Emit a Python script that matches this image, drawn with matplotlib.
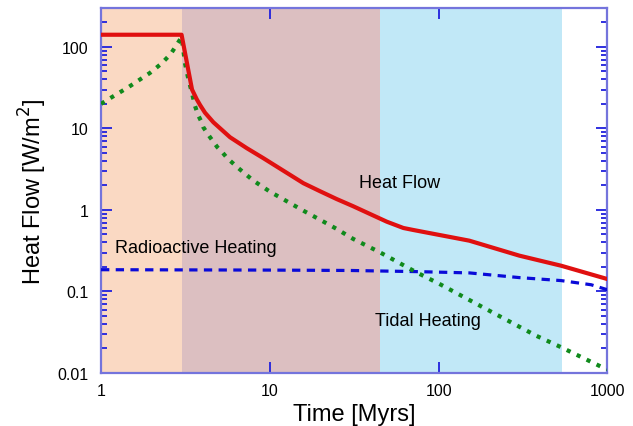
"""
Heat flow history: total heat flow vs. tidal and radioactive heating.
"""

import numpy as np
import matplotlib
matplotlib.use("Agg")
import matplotlib.pyplot as plt
from matplotlib.ticker import LogLocator, NullFormatter, FixedLocator, FixedFormatter

plt.rcParams["font.family"] = ["Liberation Sans", "DejaVu Sans"]

# ── Data ────────────────────────────────────────────────────────────────────
heat_t = [1, 3.0, 3.46, 3.69, 3.86, 4.13, 4.63, 5.81, 7.30, 9.15, 10.0,
          15.8, 19.8, 24.9, 31.2, 39.2, 49.3, 61.8, 70.8, 88.5,
          152, 301, 532, 1000]
heat_q = [141, 141, 30, 22.8, 19.4, 15.6, 11.9, 7.8, 5.73, 4.32, 3.85,
          2.13, 1.70, 1.36, 1.11, 0.893, 0.718, 0.601, 0.568, 0.52,
          0.42, 0.275, 0.207, 0.142]

tidal_t = [1.0, 1.09, 1.266, 1.46, 1.687, 1.95, 2.28, 2.59, 2.83, 2.98, 3.0,
           3.15, 3.29, 3.45, 3.60, 3.77, 3.90, 4.04, 4.41, 4.89, 5.23, 5.60,
           6.51, 7.99, 10.0, 15.8, 19.8, 24.9, 31.2, 44.8, 73.8, 101, 191,
           378, 532, 937, 1000]
tidal_q = [20.0, 22.4, 27.0, 32.3, 39.4, 48, 62.4, 82, 109, 129, 132,
           61.8, 40.5, 27.8, 19.0, 14.4, 12.5, 10.3, 7.87, 5.88, 5.10, 4.31,
           3.26, 2.29, 1.68, 0.98, 0.76, 0.585, 0.441, 0.303, 0.172, 0.124,
           0.061, 0.0287, 0.0207, 0.0117, 0.0112]

radio_t = [1, 10, 30, 77, 152, 301, 532, 800, 1000]
radio_q = [0.185, 0.183, 0.181, 0.175, 0.169, 0.148, 0.136, 0.121, 0.105]

# shaded phases
phase_start = [1, 3, 45]
phase_end = [3, 45, 535]
phase_color = ["#fad9c3", "#dcbfc1", "#c1e8f7"]

x_ticks = [1, 10, 100, 1000]
x_ticklabels = ["1", "10", "100", "1000"]
y_ticks = [0.01, 0.1, 1, 10, 100]
y_ticklabels = ["0.01", "0.1", "1", "10", "100"]

# ── Figure ──────────────────────────────────────────────────────────────────
fig = plt.figure(figsize=(6.33, 4.27), dpi=100)
ax = fig.add_axes([0.1596, 0.1241, 0.80, 0.8548])

for s, e, c in zip(phase_start, phase_end, phase_color):
    ax.axvspan(s, e, color=c, lw=0, zorder=0)

ax.plot(radio_t, radio_q, color="#0a0ad8", lw=2.3, linestyle=(0, (2.6, 2.0)),
        zorder=3)
ax.plot(tidal_t, tidal_q, color="#108a1c", lw=3.0, linestyle=(0, (1, 1.65)),
        zorder=3)
ax.plot(heat_t, heat_q, color="#e01010", lw=3.0, zorder=4,
        solid_joinstyle="round")

ax.set_xscale("log")
ax.set_yscale("log")
ax.set_xlim(1, 1000)
ax.set_ylim(0.01, 300)

ax.xaxis.set_major_locator(FixedLocator(x_ticks))
ax.xaxis.set_major_formatter(FixedFormatter(x_ticklabels))
ax.xaxis.set_minor_locator(FixedLocator([]))
ax.yaxis.set_major_locator(FixedLocator(y_ticks))
ax.yaxis.set_major_formatter(FixedFormatter(y_ticklabels))
ax.yaxis.set_minor_locator(LogLocator(base=10, subs=np.arange(2, 10), numticks=20))
ax.yaxis.set_minor_formatter(NullFormatter())

ax.tick_params(which="both", direction="in", top=True, right=True,
               color="#2020dd", width=1.3)
ax.tick_params(axis="x", which="major", length=8, pad=7, labelsize=11.5)
ax.tick_params(axis="y", which="major", length=8, pad=9, labelsize=11.5)
ax.tick_params(axis="y", which="minor", length=4)

for sp in ax.spines.values():
    sp.set_color("#7474dc")
    sp.set_linewidth(1.6)

ax.set_xlabel("Time [Myrs]", fontsize=17, labelpad=4)
ax.set_ylabel("Heat Flow [W/m$^2$]", fontsize=17, labelpad=6)

ax.text(33.8, 2.2, "Heat Flow", fontsize=13, va="center", ha="left")
ax.text(1.215, 0.35, "Radioactive Heating", fontsize=13, va="center", ha="left")
ax.text(42, 0.0438, "Tidal Heating", fontsize=13, va="center", ha="left")

fig.savefig("out.png", dpi=100)
